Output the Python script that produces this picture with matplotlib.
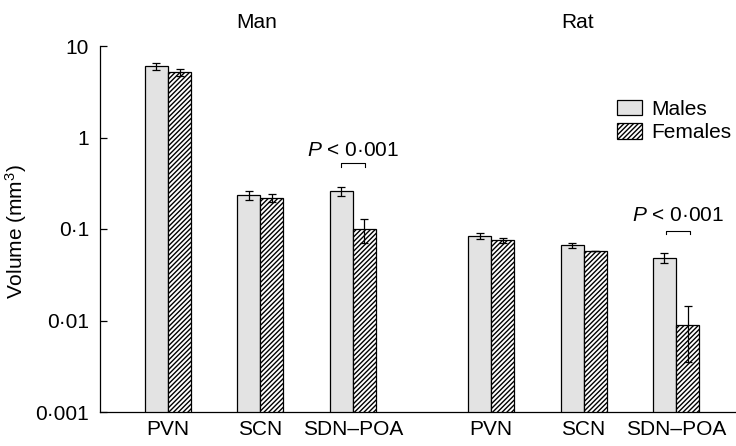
import matplotlib
matplotlib.use("Agg")
import matplotlib.pyplot as plt
import numpy as np
from matplotlib.patches import Patch

plt.rcParams['font.family'] = ['Liberation Sans', 'DejaVu Sans']
plt.rcParams['mathtext.fontset'] = 'custom'
plt.rcParams['mathtext.it'] = 'Liberation Sans:italic'
plt.rcParams['mathtext.rm'] = 'Liberation Sans'
plt.rcParams['hatch.linewidth'] = 1.0

# ---- data ----
regions = ["PVN", "SCN", "SDN\u2013POA", "PVN", "SCN", "SDN\u2013POA"]
species = ["Man", "Rat"]
males = [6.0, 0.233, 0.258, 0.0838, 0.0664, 0.048]
males_err = [0.6, 0.025, 0.03, 0.006, 0.004, 0.006]
females = [5.15, 0.22, 0.10, 0.075, 0.0575, 0.0089]
females_err = [0.45, 0.022, 0.03, 0.005, 0.0, 0.0054]
yticks = [0.001, 0.01, 0.1, 1, 10]
ytick_labels = ["0\u00b7001", "0\u00b701", "0\u00b71", "1", "10"]
p_label = "$P$ < 0\u00b7001"

# ---- layout ----
fig = plt.figure(figsize=(7.36, 4.46), dpi=100)
ax = fig.add_axes([100/736, 34/446, 1 - 100/736, (412-46)/446])

x = np.array([0, 1, 2, 3.5, 4.5, 5.5])
w = 0.25
fs = 15
male_col = '#e3e3e3'

ax.bar(x - w/2, males, w, color=male_col, edgecolor='black', linewidth=0.9,
       label='Males', zorder=2)
ax.bar(x + w/2, females, w, color='white', edgecolor='black', linewidth=0.9,
       hatch='///////', label='Females', zorder=2)

ax.errorbar(x - w/2, males, yerr=males_err, fmt='none', ecolor='black',
            elinewidth=0.9, capsize=3, capthick=0.9, zorder=3)
ax.errorbar(x + w/2, females, yerr=females_err, fmt='none', ecolor='black',
            elinewidth=0.9, capsize=3, capthick=0.9, zorder=3)

ax.set_yscale('log')
ax.set_ylim(0.001, 10)
ax.set_xlim(-0.736, 6.15)
ax.set_yticks(yticks)
ax.set_yticklabels(ytick_labels, fontsize=fs)
ax.yaxis.set_minor_locator(matplotlib.ticker.NullLocator())
ax.tick_params(axis='y', direction='in', length=5, width=0.9, pad=8)
ax.set_xticks(x)
ax.set_xticklabels(regions, fontsize=fs)
ax.tick_params(axis='x', length=0, pad=6)
for s in ['top', 'right']:
    ax.spines[s].set_visible(False)
for s in ['left', 'bottom']:
    ax.spines[s].set_linewidth(0.9)

fig.text(16/736, 1 - 232/446, "Volume (mm$^3$)", rotation=90, ha='center',
         va='center', fontsize=15)

# titles
ax.text(0.96, 1.0 + 14/366, species[0], transform=ax.get_xaxis_transform(),
        ha='center', va='bottom', fontsize=fs)
ax.text(4.43, 1.0 + 14/366, species[1], transform=ax.get_xaxis_transform(),
        ha='center', va='bottom', fontsize=fs)

# significance brackets
def bracket(xc, ytop, ybot, text_y):
    ax.plot([xc - 0.13, xc - 0.13, xc + 0.13, xc + 0.13],
            [ybot, ytop, ytop, ybot], color='black', lw=0.8, zorder=3)
    ax.text(xc, text_y, p_label, ha='center', va='center', fontsize=fs)

bracket(x[2], 0.526, 0.476, 0.73)
bracket(x[5] + 0.02, 0.0955, 0.088, 0.139)

handles = [Patch(facecolor=male_col, edgecolor='black', lw=0.9, label='Males'),
           Patch(facecolor='white', edgecolor='black', hatch='///////', lw=0.9, label='Females')]
fig.legend(handles=handles, loc='upper left', bbox_to_anchor=(617/736, 1 - 100/446),
           frameon=False, fontsize=fs, handlelength=1.2, handleheight=0.75,
           handletextpad=0.45, labelspacing=0.2, borderpad=0, borderaxespad=0)

fig.savefig("out.png", dpi=100)
